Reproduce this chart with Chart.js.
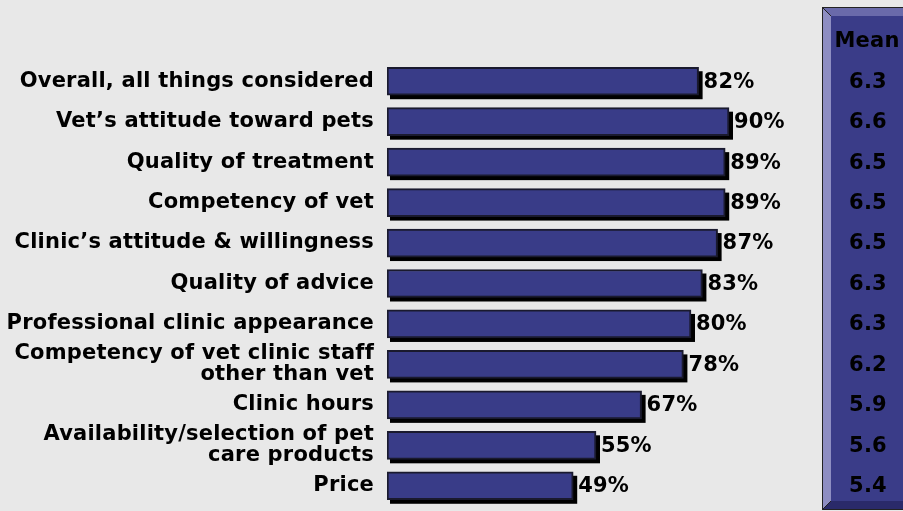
<!DOCTYPE html>
<html>
<head>
<meta charset="utf-8">
<script src="https://cdn.jsdelivr.net/npm/chart.js@4"></script>
<style>
  body { margin: 0; background: #e8e8e8; }
  #wrap { width: 903px; height: 511px; position: relative; }
</style>
</head>
<body>
<div id="wrap"><canvas id="myChart"></canvas></div>
<script>
const labels = [
    'Overall, all things considered',
    'Vet\u2019s attitude toward pets',
    'Quality of treatment',
    'Competency of vet',
    'Clinic\u2019s attitude & willingness',
    'Quality of advice',
    'Professional clinic appearance',
    ['Competency of vet clinic staff', 'other than vet'],
    'Clinic hours',
    ['Availability/selection of pet', 'care products'],
    'Price'
];
const scores = [82, 90, 89, 89, 87, 83, 80, 78, 67, 55, 49];
const means = ['6.3', '6.6', '6.5', '6.5', '6.5', '6.3', '6.3', '6.2', '5.9', '5.6', '5.4'];

const FONT = "'DejaVu Sans', Verdana, sans-serif";
const FONT_SIZE = 21;
const SPACING = '0.2px';

// slight letter spacing for all canvas text (reset whenever the canvas resizes)
const spacing = {
    id: 'spacing',
    beforeUpdate(chart) { chart.ctx.letterSpacing = SPACING; },
    beforeDraw(chart) { chart.ctx.letterSpacing = SPACING; }
};

// black drop shadow behind each bar
const barShadow = {
    id: 'barShadow',
    beforeDatasetsDraw(chart) {
        const ctx = chart.ctx;
        ctx.save();
        ctx.fillStyle = '#000';
        chart.getDatasetMeta(0).data.forEach(bar => {
            const h = bar.height;
            ctx.fillRect(bar.base + 3, bar.y - h / 2 + 4, bar.x - bar.base + 1, h);
        });
        ctx.restore();
    }
};

// percent labels at bar ends
const valueLabels = {
    id: 'valueLabels',
    afterDatasetsDraw(chart) {
        const ctx = chart.ctx;
        ctx.save();
        ctx.fillStyle = '#000';
        ctx.font = 'bold ' + FONT_SIZE + 'px ' + FONT;
        ctx.textBaseline = 'middle';
        ctx.textAlign = 'left';
        chart.getDatasetMeta(0).data.forEach((bar, i) => {
            ctx.fillText(scores[i] + '%', bar.x + 5, bar.y + 1);
        });
        ctx.restore();
    }
};

// bevelled "Mean" panel on the right
const meanPanel = {
    id: 'meanPanel',
    beforeDraw(chart) {
        const ctx = chart.ctx;
        const yScale = chart.scales.y;
        const x0 = 822, y0 = 7, x1 = 912, y1 = 510, d = 9;
        ctx.save();
        ctx.fillStyle = '#3a3c88';
        ctx.fillRect(x0, y0, x1 - x0, y1 - y0);

        function poly(pts, color) {
            ctx.beginPath();
            ctx.moveTo(pts[0][0], pts[0][1]);
            pts.slice(1).forEach(p => ctx.lineTo(p[0], p[1]));
            ctx.closePath();
            ctx.fillStyle = color;
            ctx.fill();
        }
        poly([[x0, y0], [x1, y0], [x1, y0 + d], [x0 + d, y0 + d]], '#6a6aaa');
        poly([[x0, y0], [x0 + d, y0 + d], [x0 + d, y1 - d], [x0, y1]], '#8e8ec2');
        poly([[x0, y1], [x0 + d, y1 - d], [x1, y1 - d], [x1, y1]], '#2a2a6a');

        ctx.strokeStyle = '#222';
        ctx.lineWidth = 1;
        ctx.strokeRect(x0 + 0.5, y0 + 0.5, x1 - x0, y1 - y0 - 1);
        ctx.beginPath();
        ctx.moveTo(x0, y0);
        ctx.lineTo(x0 + d, y0 + d);
        ctx.moveTo(x0, y1);
        ctx.lineTo(x0 + d, y1 - d);
        ctx.stroke();

        ctx.fillStyle = '#000';
        ctx.font = 'bold ' + FONT_SIZE + 'px ' + FONT;
        ctx.textAlign = 'center';
        ctx.textBaseline = 'middle';
        ctx.fillText('Mean', 867, 42);
        means.forEach((m, i) => {
            ctx.fillText(m, 868, yScale.getPixelForValue(i) + 1);
        });
        ctx.restore();
    }
};

const ctx = document.getElementById('myChart').getContext('2d');

const myChart = new Chart(ctx, {
    type: 'bar',
    data: {
        labels: labels,
        datasets: [{
            data: scores,
            backgroundColor: '#393c88',
            borderColor: '#1a1a2e',
            borderWidth: 2,
            borderSkipped: false,
            barThickness: 28
        }]
    },
    options: {
        indexAxis: 'y',
        responsive: true,
        maintainAspectRatio: false,
        animation: false,
        layout: {
            padding: { top: 61, bottom: 5, left: 0, right: 136 }
        },
        plugins: {
            legend: { display: false },
            tooltip: { enabled: false }
        },
        scales: {
            x: {
                display: false,
                min: 0,
                max: 100
            },
            y: {
                grid: { display: false, drawTicks: false },
                border: { display: false },
                ticks: {
                    color: '#000',
                    padding: 13,
                    autoSkip: false,
                    font: { family: FONT, size: FONT_SIZE, weight: 'bold', lineHeight: 1.0 }
                },
                afterFit(scale) {
                    scale.width = 387;
                    scale.paddingTop = 0;
                    scale.paddingBottom = 0;
                }
            }
        }
    },
    plugins: [spacing, meanPanel, barShadow, valueLabels]
});
</script>
</body>
</html>
